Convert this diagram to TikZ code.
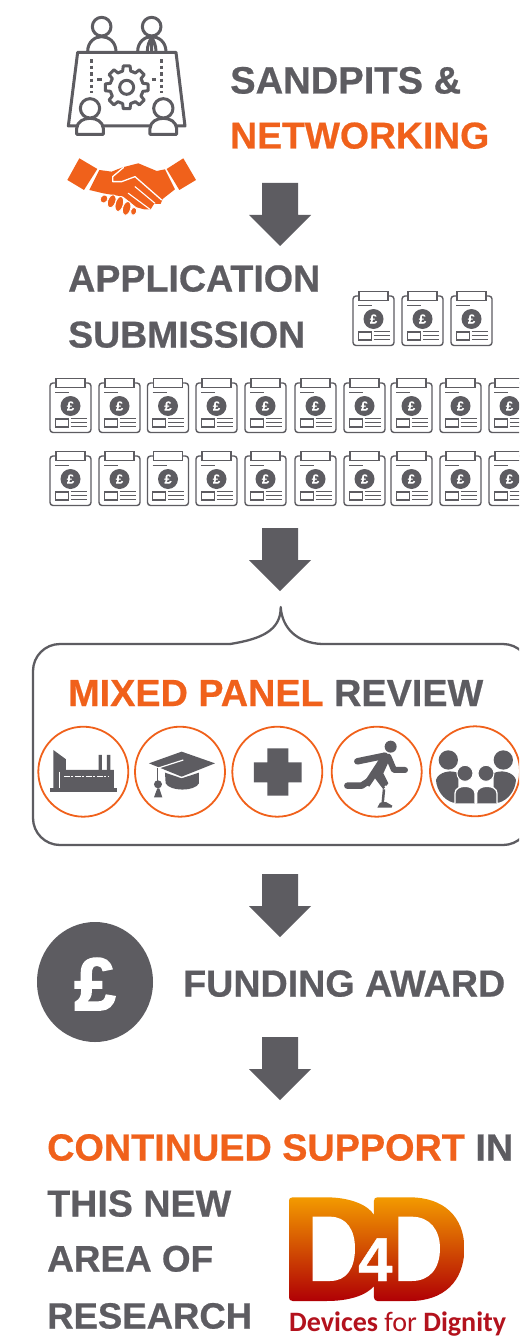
\documentclass[tikz,border=0pt]{standalone}
\usepackage{graphicx}
\usepackage{fontspec}
\setmainfont{Liberation Sans}[BoldFeatures={FakeBold=0.6}]
\newfontfamily\poundfont{Liberation Sans}[BoldFeatures={FakeBold=2.5}]
\newfontfamily\logofont{Carlito}
\definecolor{dgray}{HTML}{5D5C61}
\definecolor{dorange}{HTML}{F0611B}
\definecolor{dred}{HTML}{B3121D}
\definecolor{logotop}{HTML}{F39A00}
\definecolor{logobot}{HTML}{B00005}
\tikzset{
  headline/.style={anchor=base west,inner sep=0pt,text=dgray},
  iconline/.style={draw=dgray,line width=3pt,line join=round,line cap=round},
  panelcircle/.style={draw=dorange,line width=1.8pt,fill=white},
  zoomA/.style={shift={(40,0)},x=0.3333pt,y=-0.3333pt},
  zoomB/.style={shift={(20,600)},x=0.3333pt,y=-0.3333pt},
  zoomC/.style={shift={(320,640)},x=0.3333pt,y=-0.3333pt},
  zoomD/.style={shift={(270,1180)},x=0.3333pt,y=-0.3333pt},
}
\newcommand{\headtext}[5]{\node[headline,text=#5] (#1) at (#2) {\resizebox{#3pt}{!}{\fontsize{36}{40}\selectfont\bfseries #4}};}
\newcommand{\blockarrow}[1]{\fill[dgray,shift={(0,#1)}] (262,0)--(298,0)--(298,32)--(311,32)--(280,63)--(249,32)--(262,32)--cycle;}
\newcommand{\docicon}[3]{%
\begin{scope}[shift={(#1,#2)}]
 \draw[dgray,line width=1.4pt,rounded corners=3pt] (0,5)--(41,5)--(41,54.5)--(0,54.5)--cycle;
 \draw[dgray,line width=1.4pt,fill=white] (6,0.5) rectangle (35,9.5);
 \draw[dgray,line width=1.2pt] (5,14.7)--(19,14.7);
 \fill[dgray] (20.5,28) circle[radius=10];
 \node[inner sep=0pt,text=white,font=\fontsize{13}{13}\selectfont\bfseries] (#3) at (20.5,28) {£};
 \draw[dgray,line width=1.2pt] (5.3,41) rectangle (18.3,49);
 \draw[dgray,line width=1.2pt] (20.7,40.7)--(36.7,40.7) (20.7,44.7)--(36.7,44.7) (20.7,48.7)--(36.7,48.7);
\end{scope}}
\begin{document}
\begin{tikzpicture}[x=1pt,y=-1pt]
\useasboundingbox (0,0) rectangle (519,1337);
\clip (0,0) rectangle (519,1337);
\fill[white] (0,0) rectangle (519,1337);

% meeting icon
\begin{scope}[zoomA]
 \draw[iconline] (185,80) circle[radius=28];
 \draw[iconline] (335,80) circle[radius=28];
 \draw[iconline] (143,155) .. controls (143,125) and (165,110) .. (185,110) .. controls (205,110) and (228,125) .. (228,155);
 \draw[iconline] (293,155) .. controls (293,125) and (315,110) .. (335,110) .. controls (355,110) and (378,125) .. (378,155);
 \draw[iconline] (322,155) .. controls (322,135) and (328,125) .. (335,112) .. controls (342,125) and (348,135) .. (348,155) (335,112)--(335,155);
 \draw[iconline] (113,157)--(408,157)--(435,378)--(85,378)--cycle;
 \draw[dgray,line width=3.4pt,dash pattern=on 3.4pt off 3pt] (155,178)--(155,278) (365,178)--(365,278);
 \draw[dgray,line width=3.4pt] (172,238)--(185,238) (335,238)--(347,238);
 \begin{scope}[shift={(260,262)}]
  \foreach \a in {0,45,...,315}{
   \draw[iconline] ({\a-22.5}:50)--({\a-14}:50)--({\a-9}:65)--({\a+9}:65)--({\a+14}:50)--({\a+22.5}:50);
  }
  \draw[iconline] (0,0) circle[radius=21];
 \end{scope}
 \foreach \c in {150,370}{
  \draw[iconline,fill=white] (\c-40,403)--(\c-40,385) .. controls (\c-38,365) and (\c-20,355) .. (\c,355) .. controls (\c+20,355) and (\c+38,365) .. (\c+40,385)--(\c+40,403)--cycle;
  \draw[iconline,fill=white] (\c,325) circle[radius=29];
 }
 % handshake
 \fill[dorange] (118,475)--(172,507)--(132,570)--(82,540)--cycle;
 \fill[dorange] (430,475)--(468,540)--(418,570)--(380,507)--cycle;
 \fill[dorange] (178,510)--(215,515)--(248,502)--(295,490)--(350,513)--(375,508)--(405,568)--(368,597)--(362,612)--(342,612)--(332,628)--(312,628)--(290,622)--(250,590)--(190,580)--(148,570)--cycle;
 \draw[white,line width=1.3pt,line join=round,line cap=round] (250,503)--(218,530)--(218,545)--(245,545)--(285,530)--(365,600);
 \draw[white,line width=1.1pt,line cap=round] (265,580)--(330,628) (285,560)--(345,610);
 \draw[white,line width=0.9pt,fill=dorange,rotate around={-35:(192,597)}] (192,597) ellipse[x radius=11,y radius=13];
 \draw[white,line width=0.9pt,fill=dorange,rotate around={-20:(215,604)}] (215,604) ellipse[x radius=12,y radius=20];
 \draw[white,line width=0.9pt,fill=dorange,rotate around={-15:(238,612)}] (238,612) ellipse[x radius=12,y radius=23];
 \draw[white,line width=0.9pt,fill=dorange,rotate around={-15:(260,625)}] (260,625) ellipse[x radius=12,y radius=21];
 \draw[white,line width=0.9pt,fill=dorange,rotate around={-15:(281,634)}] (281,634) ellipse[x radius=9,y radius=12];
\end{scope}

\headtext{tSand}{230,93.5}{231}{SANDPITS \&}{dgray}
\headtext{tNet}{230,148.5}{259}{NETWORKING}{dorange}
\blockarrow{183}
\headtext{tApp}{68,291.5}{252}{APPLICATION}{dgray}
\headtext{tSub}{68,347.5}{237}{SUBMISSION}{dgray}

\foreach \x [count=\i] in {353,402,451}{\docicon{\x}{291}{da\i}}
\foreach \x [count=\i] in {50,99,147.5,196,245,295,344,391,440,489}{
  \docicon{\x}{378}{db\i}
  \docicon{\x}{451}{dc\i}
}
\blockarrow{528}

% bubble
\draw[dgray,line width=2.3pt,rounded corners=27pt] (230,644)--(33,644)--(33,845)--(530,845)--(530,644)--(322,644);
\draw[dgray,line width=2.3pt,line join=round] (230,644) .. controls (262,639) and (281,630) .. (280.7,607) .. controls (282,628) and (297,643) .. (322,644);

\node[headline] (tMix) at (68,706) {\resizebox{415pt}{!}{\fontsize{36}{40}\selectfont\bfseries\textcolor{dorange}{MIXED PANEL} REVIEW}};

\draw[panelcircle] (83.3,771.7) circle[radius=45];
\draw[panelcircle] (180,771.7) circle[radius=45];
\draw[panelcircle] (277.3,771.7) circle[radius=45];
\draw[panelcircle] (376.7,771.7) circle[radius=45];
\draw[panelcircle] (475,771.3) circle[radius=45];

\begin{scope}[zoomB]
 % factory
 \fill[dgray] (90,565) rectangle (290,575);
 \fill[dgray] (100,565)--(100,450)--(138,478)--(138,510)--(282,510)--(282,565)--cycle;
 \fill[dgray] (236,465) rectangle (246,512) (261,465) rectangle (271,512);
 \draw[white,line width=0.8pt] (118,515)--(118,565);
 \draw[white,line width=1.3pt,dash pattern=on 6pt off 1.5pt on 2pt off 1.5pt] (132,530)--(268,530);
 % cap
 \fill[dgray] (435,518)--(485,535)--(537,518)--(537,550) .. controls (525,575) and (450,575) .. (437,550)--cycle;
 \fill[dgray] (387,490)--(485,455)--(585,490)--(485,530)--cycle;
 \draw[white,line width=1.2pt] (412,505)--(490,480);
 \draw[dgray,line width=1pt] (413,505)--(413,545);
 \fill[dgray] (414,553) circle[radius=12];
 \fill[dgray] (412,565)--(402,592)--(427,592)--(418,565)--cycle;
 % cross
 \fill[dgray] (742,445)--(805,445)--(805,487)--(845,487)--(845,547)--(805,547)--(805,587)--(742,587)--(742,547)--(702,547)--(702,487)--(742,487)--cycle;
\end{scope}

\begin{scope}[zoomC]
 % runner
 \fill[dgray] (212,320) circle[radius=18];
 \draw[dgray,line width=6.5pt,line cap=round,line join=round] (112,364)--(195,347);
 \draw[dgray,line width=6pt,line cap=round,line join=round] (205,350)--(222,390)--(255,390);
 \fill[dgray] (190,338)--(212,352)--(190,400)--(205,430)--(190,448)--(165,415)--(148,440)--(130,430)--cycle;
 \draw[dgray,line width=6.5pt,line cap=round,line join=round] (148,422)--(125,437)--(82,437);
 \fill[white] (197,440) circle[radius=3.5];
 \draw[dgray,line width=2.5pt] (192,448)--(188,490);
 \fill[dgray] (172,503)--(180,488)--(198,486)--(217,497)--(215,503)--cycle;
 % family
 \fill[dgray] (385,360) circle[radius=29];
 \fill[dgray] (550,360) circle[radius=29];
 \fill[dgray] (348,420) .. controls (355,395) and (395,388) .. (415,400)--(415,488)--(400,488) .. controls (370,480) and (350,450) .. (348,420)--cycle;
 \fill[dgray] (588,420) .. controls (581,395) and (541,388) .. (521,400)--(521,488)--(536,488) .. controls (566,480) and (586,450) .. (588,420)--cycle;
 \draw[white,line width=1.3pt,fill=dgray] (405,490)--(405,460) .. controls (405,432) and (465,432) .. (465,460)--(465,490);
 \draw[white,line width=1.3pt,fill=dgray] (470,490)--(470,460) .. controls (470,432) and (531,432) .. (531,460)--(531,490);
 \draw[white,line width=1pt,fill=dgray] (435,400) circle[radius=24];
 \draw[white,line width=1pt,fill=dgray] (498,400) circle[radius=24];
\end{scope}

\blockarrow{874}
\fill[dgray] (95,982) ellipse[x radius=58,y radius=60];
\node[inner sep=0pt,text=white,font=\fontsize{74}{74}\selectfont\poundfont\bfseries] (pound) at (95,984) {£};
\headtext{tFund}{183,996.5}{322}{FUNDING AWARD}{dgray}
\blockarrow{1037}

\node[headline] (tCont) at (47,1160.5) {\resizebox{466pt}{!}{\fontsize{36}{40}\selectfont\bfseries\textcolor{dorange}{CONTINUED SUPPORT} IN}};
\headtext{tThis}{47,1216.5}{184}{THIS NEW}{dgray}
\headtext{tArea}{47,1271.5}{166}{AREA OF}{dgray}
\headtext{tRes}{47,1328.5}{205}{RESEARCH}{dgray}

% logo
\begin{scope}[zoomD]
 \shade[top color=logotop,bottom color=logobot]
   (68,52)--(170,52) .. controls (240,52) and (295,75) .. (312,105)--(312,62) .. controls (312,56) and (316,52) .. (322,52)--(420,52)
   .. controls (520,52) and (583,110) .. (583,205) .. controls (583,305) and (520,363) .. (420,363)--(322,363) .. controls (316,363) and (312,358) .. (312,352)--(312,318)
   .. controls (290,345) and (240,363) .. (170,363)--(68,363) .. controls (60,363) and (57,358) .. (57,352)--(57,62) .. controls (57,56) and (60,52) .. (68,52)--cycle;
 \fill[white] (128,110)--(180,110) .. controls (230,110) and (255,150) .. (255,205) .. controls (255,265) and (230,303) .. (180,303)--(128,303)--cycle;
 \fill[white] (385,110)--(425,110) .. controls (480,110) and (510,150) .. (510,205) .. controls (510,265) and (480,303) .. (425,303)--(385,303)--cycle;
 \node[inner sep=0pt,anchor=base,text=white,font=\fontsize{62}{62}\selectfont\bfseries] (four) at (316,303) {4};
\end{scope}
\node[anchor=base west,inner sep=0pt,text=dred] (tLogo) at (289,1331.5) {\resizebox{217pt}{!}{\fontsize{24}{28}\selectfont\logofont\textbf{Devices} for \textbf{Dignity}}};
\end{tikzpicture}
\end{document}
